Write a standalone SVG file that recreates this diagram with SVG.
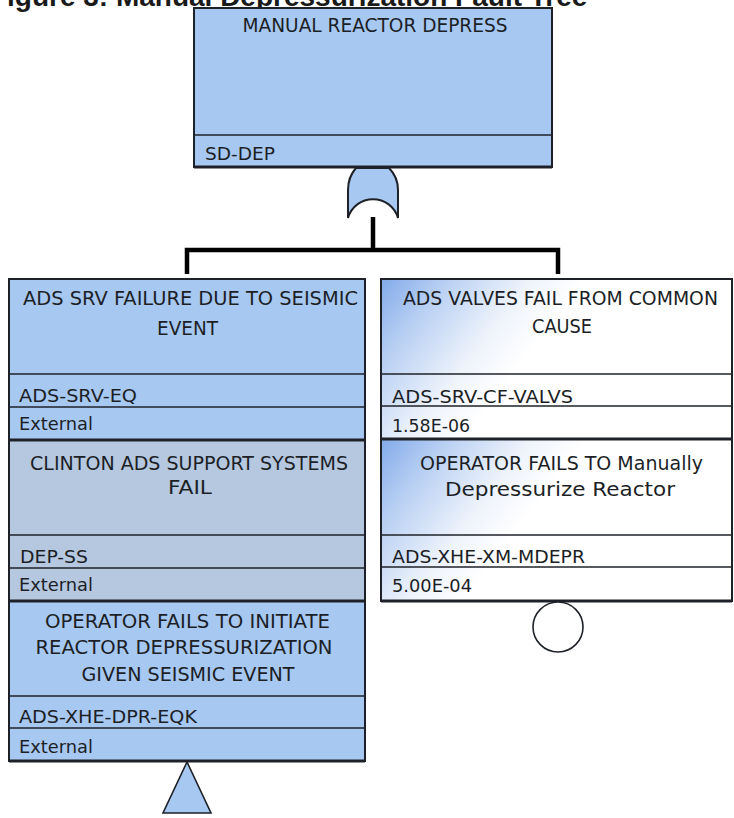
<svg xmlns="http://www.w3.org/2000/svg" width="734" height="818" viewBox="0 0 734 818">
<style>
.t{font-family:"DejaVu Sans","Verdana",sans-serif;font-size:20px;fill:#1c1f26;}
.i{font-family:"DejaVu Sans","Verdana",sans-serif;font-size:18px;fill:#1c1f26;}
.m{text-anchor:middle;}
.box{stroke:#1e2228;stroke-width:2;}
.dv{stroke:#1e2228;stroke-width:1.6;fill:none;}
.thick{stroke:#1e2228;stroke-width:3;fill:none;}
.blue{fill:#a7c8f1;}
.grey{fill:#b5c8e0;}
.grad{fill:url(#g);}
.con{stroke:#000;stroke-width:4.5;fill:none;}
</style>
<defs>
<linearGradient id="g" x1="0" y1="0" x2="1" y2="0.35">
<stop offset="0" stop-color="#82aaea"/>
<stop offset="0.17" stop-color="#b9d0f3"/>
<stop offset="0.38" stop-color="#eef3fb"/>
<stop offset="0.52" stop-color="#ffffff"/>
<stop offset="1" stop-color="#ffffff"/>
</linearGradient>
</defs>
<rect width="734" height="818" fill="#ffffff"/>
<text x="7" y="6" style="font-family:'Liberation Sans',Arial,sans-serif;font-weight:bold;font-size:28px;fill:#1a1a1a;">igure 3: Manual Depressurization Fault Tree</text>

<g id="connectors">
<line class="con" x1="373" y1="217" x2="373" y2="250"/>
<polyline class="con" points="187,274 187,250 558,250 558,274"/>
</g>

<g id="top">
<rect class="box blue" x="194" y="8" width="358" height="159"/>
<line class="dv" x1="194" y1="135" x2="552" y2="135"/>
<line class="thick" x1="194" y1="167" x2="552" y2="167"/>
<text class="t m" x="375" y="32" textLength="265" lengthAdjust="spacingAndGlyphs">MANUAL REACTOR DEPRESS</text>
<text class="i" x="205" y="160" textLength="70" lengthAdjust="spacingAndGlyphs">SD-DEP</text>
</g>

<g id="or-gate">
<path d="M356 168 Q348 177 348 190 L348 218 A26 26 0 0 1 398 218 L398 190 Q398 177 389 168 Z" fill="#a7c8f1" stroke="#1e2228" stroke-width="2"/>
</g>

<g id="ads-srv-eq">
<rect class="box blue" x="9" y="279" width="356" height="161"/>
<line class="dv" x1="9" y1="374" x2="365" y2="374"/>
<line class="dv" x1="9" y1="407" x2="365" y2="407"/>
<text class="t m" x="190.5" y="305" textLength="335" lengthAdjust="spacingAndGlyphs">ADS SRV FAILURE DUE TO SEISMIC</text>
<text class="t m" x="187.5" y="335" textLength="61" lengthAdjust="spacingAndGlyphs">EVENT</text>
<text class="i" x="19" y="402" textLength="118" lengthAdjust="spacingAndGlyphs">ADS-SRV-EQ</text>
<text class="i" x="19" y="430" textLength="74" lengthAdjust="spacingAndGlyphs">External</text>
</g>

<g id="dep-ss">
<rect class="box grey" x="9" y="440" width="356" height="161"/>
<line class="thick" x1="9" y1="440" x2="365" y2="440"/>
<line class="dv" x1="9" y1="535" x2="365" y2="535"/>
<line class="dv" x1="9" y1="568" x2="365" y2="568"/>
<text class="t m" x="189" y="470" textLength="318" lengthAdjust="spacingAndGlyphs">CLINTON ADS SUPPORT SYSTEMS</text>
<text class="t m" x="190" y="494" textLength="44" lengthAdjust="spacingAndGlyphs">FAIL</text>
<text class="i" x="20" y="563" textLength="68" lengthAdjust="spacingAndGlyphs">DEP-SS</text>
<text class="i" x="19" y="591" textLength="74" lengthAdjust="spacingAndGlyphs">External</text>
</g>

<g id="ads-xhe-dpr-eqk">
<rect class="box blue" x="9" y="601" width="356" height="160"/>
<line class="thick" x1="9" y1="601" x2="365" y2="601"/>
<line class="dv" x1="9" y1="696" x2="365" y2="696"/>
<line class="dv" x1="9" y1="728" x2="365" y2="728"/>
<line class="thick" x1="9" y1="761" x2="365" y2="761"/>
<text class="t m" x="187.5" y="628" textLength="285" lengthAdjust="spacingAndGlyphs">OPERATOR FAILS TO INITIATE</text>
<text class="t m" x="184" y="654" textLength="297" lengthAdjust="spacingAndGlyphs">REACTOR DEPRESSURIZATION</text>
<text class="t m" x="188" y="681" textLength="213" lengthAdjust="spacingAndGlyphs">GIVEN SEISMIC EVENT</text>
<text class="i" x="19" y="723" textLength="178" lengthAdjust="spacingAndGlyphs">ADS-XHE-DPR-EQK</text>
<text class="i" x="19" y="753" textLength="74" lengthAdjust="spacingAndGlyphs">External</text>
<path d="M187 762 L163 813 L211 813 Z" fill="#a7c8f1" stroke="#1e2228" stroke-width="1.6"/>
</g>

<g id="ads-srv-cf-valvs">
<rect class="box grad" x="381" y="279" width="351" height="160"/>
<line class="dv" x1="381" y1="374" x2="732" y2="374"/>
<line class="dv" x1="381" y1="406" x2="732" y2="406"/>
<text class="t m" x="560.5" y="305" textLength="315" lengthAdjust="spacingAndGlyphs">ADS VALVES FAIL FROM COMMON</text>
<text class="t m" x="562" y="333" textLength="60" lengthAdjust="spacingAndGlyphs">CAUSE</text>
<text class="i" x="392" y="403" textLength="181" lengthAdjust="spacingAndGlyphs">ADS-SRV-CF-VALVS</text>
<text class="i" x="392" y="432" textLength="78" lengthAdjust="spacingAndGlyphs">1.58E-06</text>
</g>

<g id="ads-xhe-xm-mdepr">
<rect class="box grad" x="381" y="439" width="351" height="162"/>
<line class="thick" x1="381" y1="439" x2="732" y2="439"/>
<line class="dv" x1="381" y1="535" x2="732" y2="535"/>
<line class="dv" x1="381" y1="567" x2="732" y2="567"/>
<line class="thick" x1="381" y1="601" x2="732" y2="601"/>
<text class="t m" x="561.5" y="470" textLength="283" lengthAdjust="spacingAndGlyphs">OPERATOR FAILS TO Manually</text>
<text class="t m" x="560" y="496" textLength="230" lengthAdjust="spacingAndGlyphs">Depressurize Reactor</text>
<text class="i" x="392" y="563" textLength="193" lengthAdjust="spacingAndGlyphs">ADS-XHE-XM-MDEPR</text>
<text class="i" x="392" y="592" textLength="80" lengthAdjust="spacingAndGlyphs">5.00E-04</text>
<circle cx="558" cy="627" r="25" fill="#ffffff" stroke="#1e2228" stroke-width="1.6"/>
</g>
</svg>
